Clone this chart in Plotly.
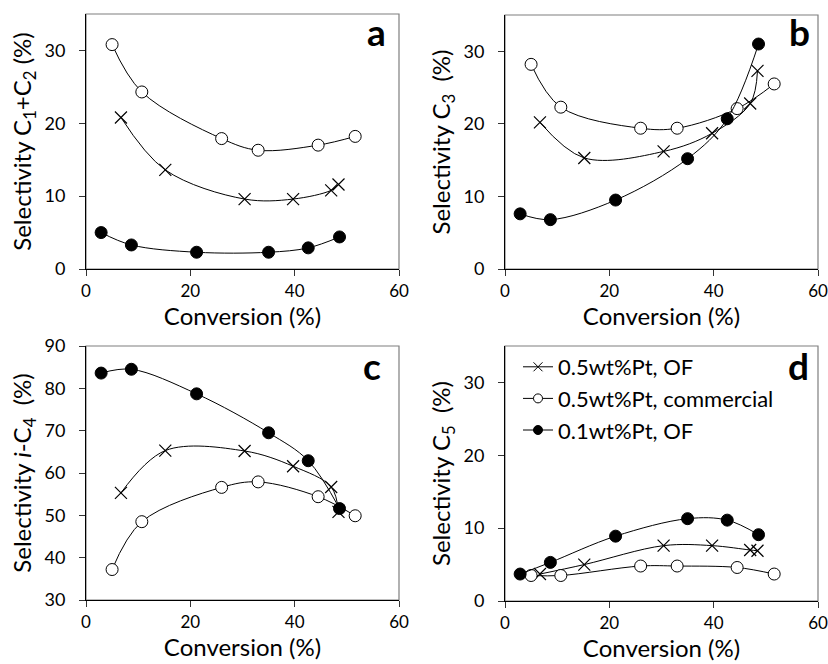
import plotly.graph_objects as go

# ---------------- data ----------------
x_of05 = [6.7, 15.2, 30.4, 39.7, 47.0, 48.4]
x_com05 = [5.0, 10.7, 26.0, 33.0, 44.5, 51.6]
x_of01 = [2.9, 8.7, 21.2, 35.0, 42.6, 48.6]

# panel a: C1+C2
a_of05 = [20.8, 13.6, 9.6, 9.6, 10.8, 11.6]
a_com05 = [30.8, 24.3, 17.9, 16.3, 17.0, 18.2]
a_of01 = [5.0, 3.3, 2.3, 2.3, 2.9, 4.4]

# panel b: C3
b_of05 = [20.2, 15.3, 16.2, 18.7, 22.8, 27.3]
b_com05 = [28.2, 22.3, 19.4, 19.4, 22.1, 25.5]
b_of01 = [7.6, 6.8, 9.5, 15.2, 20.7, 31.0]

# panel c: i-C4
c_of05 = [55.3, 65.3, 65.2, 61.6, 56.7, 50.8]
c_com05 = [37.2, 48.5, 56.6, 57.9, 54.4, 49.9]
c_of01 = [83.6, 84.5, 78.7, 69.5, 62.9, 51.6]

# panel d: C5
d_of05 = [3.7, 5.0, 7.6, 7.6, 7.0, 6.9]
d_com05 = [3.5, 3.5, 4.8, 4.8, 4.6, 3.7]
d_of01 = [3.7, 5.3, 8.9, 11.3, 11.1, 9.1]

series_names = ["0.5wt%Pt, OF", "0.5wt%Pt, commercial", "0.1wt%Pt, OF"]
panel_letters = ["a", "b", "c", "d"]
y_titles = ["Selectivity C<sub>1</sub>+C<sub>2</sub> (%)",
            "Selectivity C<sub>3</sub>  (%)",
            "Selectivity <i>i</i>-C<sub>4</sub>  (%)",
            "Selectivity C<sub>5</sub>  (%)"]
x_title = "Conversion (%)"
x_ticks = [0, 20, 40, 60]

FONT = "Lato"

# ---------------- layout geometry ----------------
W, H = 828, 664
panels = [
    dict(x0=86, x1=399, y0=14, y1=269, yr=[0, 35], yt=[0, 10, 20, 30], lx=0.965, ly=0.933),
    dict(x0=505, x1=818, y0=15, y1=269, yr=[0, 35], yt=[0, 10, 20, 30], lx=0.98, ly=0.937),
    dict(x0=86, x1=399, y0=346, y1=600, yr=[30, 90], yt=[30, 40, 50, 60, 70, 80, 90], lx=0.95, ly=0.925),
    dict(x0=505, x1=818, y0=346, y1=601, yr=[0, 35], yt=[0, 10, 20, 30], lx=0.978, ly=0.925),
]
data = [
    (a_of05, a_com05, a_of01),
    (b_of05, b_com05, b_of01),
    (c_of05, c_com05, c_of01),
    (d_of05, d_com05, d_of01),
]

fig = go.Figure()

marker_styles = [
    dict(symbol="x-thin", size=12, color="black", line=dict(color="black", width=1.2)),
    dict(symbol="circle", size=12, color="white", line=dict(color="black", width=1)),
    dict(symbol="circle", size=12, color="black", line=dict(color="black", width=1)),
]
xs = [x_of05, x_com05, x_of01]

layout = dict(
    width=W, height=H, margin=dict(l=0, r=0, t=0, b=0, autoexpand=False),
    paper_bgcolor="white", plot_bgcolor="white",
    font=dict(family=FONT, color="black", size=17),
    showlegend=True,
    legend=dict(x=518 / W, y=1 - 346 / H, xanchor="left", yanchor="top",
                bgcolor="rgba(0,0,0,0)", font=dict(size=22, family=FONT),
                tracegroupgap=0, itemwidth=30),
)
shapes = []
annotations = []

for i, p in enumerate(panels):
    n = "" if i == 0 else str(i + 1)
    xa = "x" + n
    ya = "y" + n
    layout["xaxis" + n] = dict(
        domain=[p["x0"] / W, p["x1"] / W], range=[0, 60], tickvals=x_ticks,
        showline=True, linecolor="black", linewidth=1, ticks="outside", ticklen=6,
        tickcolor="#333333", showgrid=False, zeroline=False, anchor=ya, automargin=False,
        ticklabelstandoff=1,
        tickfont=dict(size=17), title=dict(text=x_title, font=dict(size=24), standoff=3),
    )
    layout["yaxis" + n] = dict(
        domain=[1 - p["y1"] / H, 1 - p["y0"] / H], range=p["yr"], tickvals=p["yt"],
        showline=True, linecolor="black", linewidth=1, ticks="outside", ticklen=6,
        tickcolor="#333333", showgrid=False, zeroline=False, anchor=xa, automargin=False,
        ticklabelstandoff=10,
        tickfont=dict(size=18), title=dict(text=y_titles[i], font=dict(size=24), standoff=6),
    )
    shapes.append(dict(type="rect", xref=xa + " domain", yref=ya + " domain",
                       x0=0, x1=1, y0=0, y1=1, line=dict(color="#7f7f7f", width=1.2),
                       layer="below"))
    annotations.append(dict(text="<b>" + panel_letters[i] + "</b>", xref=xa + " domain",
                            yref=ya + " domain", x=p["lx"], y=p["ly"], xanchor="right",
                            yanchor="middle", showarrow=False,
                            font=dict(size=37, family=FONT, color="black")))
    for k in range(3):
        fig.add_trace(go.Scatter(
            x=xs[k], y=data[i][k], mode="lines+markers", xaxis=xa, yaxis=ya,
            line=dict(color="black", width=1, shape="spline", smoothing=1),
            marker=marker_styles[k], showlegend=False, name=series_names[k],
        ))

# legend entries (panel d)
legend_markers = [
    dict(symbol="x-thin", size=9, color="black", line=dict(color="black", width=1)),
    dict(symbol="circle", size=9, color="white", line=dict(color="black", width=1)),
    dict(symbol="circle", size=9, color="black", line=dict(color="black", width=1)),
]
for k in range(3):
    fig.add_trace(go.Scatter(
        x=[None], y=[None], mode="lines+markers", xaxis="x4", yaxis="y4",
        line=dict(color="black", width=1), marker=legend_markers[k],
        name=series_names[k], showlegend=True,
    ))

layout["shapes"] = shapes
layout["annotations"] = annotations
fig.update_layout(**layout)
fig.write_html("out.html")
